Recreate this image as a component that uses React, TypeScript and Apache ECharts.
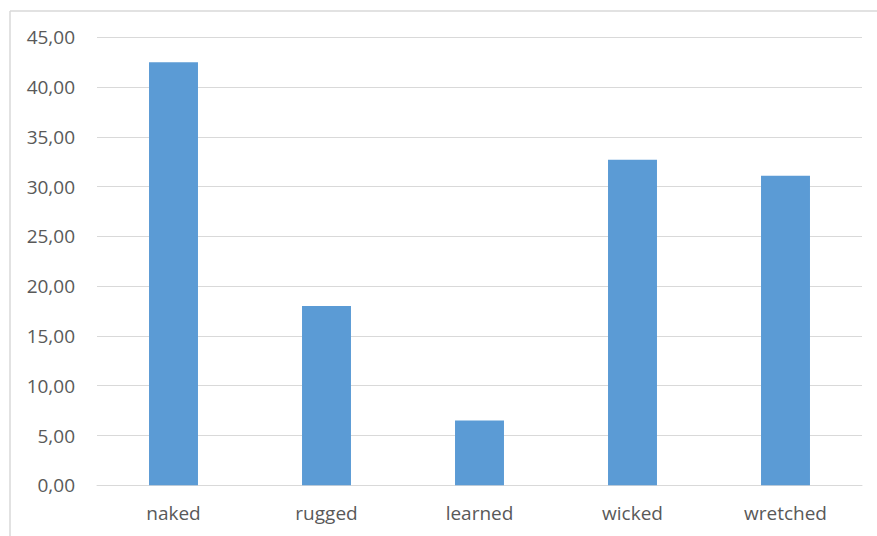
import React, { useEffect, useRef } from "react";
import * as echarts from "echarts";

const categories = ["naked", "rugged", "learned", "wicked", "wretched"];
const values = [42.5, 18.0, 6.5, 32.7, 31.1];
const yMin = 0;
const yMax = 45;
const yStep = 5;

export default function App() {
  const ref = useRef<HTMLDivElement>(null);
  useEffect(() => {
    document.body.style.margin = "0";
    const chart = echarts.init(ref.current!, null, { renderer: "svg" });
    chart.setOption({
      animation: false,
      backgroundColor: "#ffffff",
      textStyle: { fontFamily: "Open Sans" },
      grid: { left: 97, right: 15, top: 37.3, bottom: 50.7, containLabel: false },
      xAxis: {
        type: "category",
        data: categories,
        axisLine: { show: true, lineStyle: { color: "#D9D9D9", width: 1 } },
        axisTick: { show: false },
        axisLabel: { color: "#595959", fontSize: 19, fontFamily: "Open Sans", margin: 18 },
      },
      yAxis: {
        type: "value",
        min: yMin,
        max: yMax,
        interval: yStep,
        axisLine: { show: false },
        axisTick: { show: false },
        splitLine: { lineStyle: { color: "#D9D9D9", width: 1 } },
        axisLabel: {
          color: "#595959",
          fontSize: 19,
          fontFamily: "Open Sans",
          margin: 22,
          formatter: (v: number) => v.toFixed(2).replace(".", ","),
        },
      },
      series: [
        {
          type: "bar",
          data: values,
          barWidth: "32%",
          itemStyle: { color: "#5B9BD5" },
        },
      ],
      graphic: [
        { type: "line", shape: { x1: 10, y1: 11, x2: 877, y2: 11 }, style: { stroke: "#D9D9D9", lineWidth: 1.5 } },
        { type: "line", shape: { x1: 10, y1: 11, x2: 10, y2: 536 }, style: { stroke: "#D9D9D9", lineWidth: 1.5 } },
      ],
    });
    return () => chart.dispose();
  }, []);
  return <div ref={ref} style={{ width: 877, height: 536 }} />;
}
